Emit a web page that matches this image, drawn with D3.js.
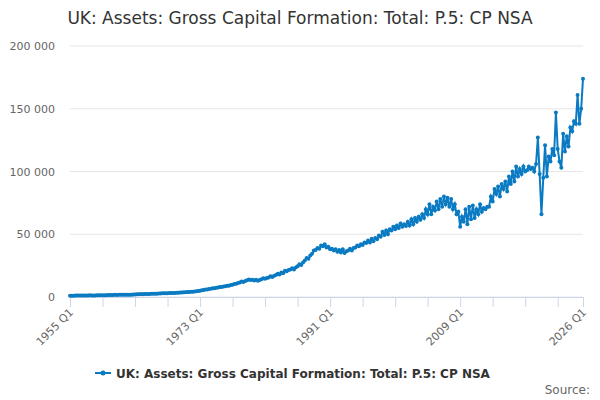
<!DOCTYPE html>
<html><head><meta charset="utf-8">
<script src="https://cdn.jsdelivr.net/npm/d3@7"></script>
<style>body{margin:0;background:#fff}</style>
</head><body><div id="chart"></div>
<script>
const title = 'UK: Assets: Gross Capital Formation: Total: P.5: CP NSA';
const startYear = 1955;
// quarterly values, £ million, 1955 Q1 .. 2026 Q1
const values = [
1000,1050,1020,1100, 1100,1150,1120,1200, 1200,1250,1220,1300, 1250,1280,1260,1330,
1300,1380,1360,1450, 1450,1520,1500,1600, 1620,1700,1680,1780, 1700,1750,1720,1800,
1750,1850,1880,1980, 2050,2150,2180,2300, 2250,2350,2380,2480, 2400,2500,2520,2620,
2600,2750,2780,2900, 2900,3000,3050,3150, 3100,3200,3250,3400, 3400,3550,3600,3800,
3800,3950,4050,4250, 4200,4350,4500,4800, 5000,5300,5500,5900, 6000,6300,6500,6900,
7000,7300,7600,8000, 8000,8400,8600,9000, 9000,9500,9800,10300, 10500,11200,11600,12300,
12000,12800,13300,14000, 13500,13800,13200,13800, 13000,13500,14200,15000, 14500,15200,15600,16500,
16000,17000,17500,18500, 18000,19500,19000,21000, 20500,21500,22000,23000, 22000,23500,24500,26000,
25500,27500,29000,31000, 30500,33000,34500,37000, 37500,39000,38500,41000, 40500,42000,39500,40000,
38000,38500,37000,38000, 36000,37500,35500,38000, 35000,36500,37000,38500, 37000,39000,39500,41000,
40500,42000,41500,43500, 43000,45000,43500,46500, 44500,47000,46000,49000, 48000,52000,49500,53000,
50000,54000,53000,56000, 54000,57000,55000,58500, 56000,58000,56500,60000, 57000,62000,58000,63000,
60000,64000,61500,66000, 63000,70000,66000,74000, 66000,72000,69000,76000, 70000,78000,72000,80000,
74000,79000,72000,78000, 70000,74000,66000,68000, 56000,64000,60000,70000, 58000,72000,62000,73000,
63000,70000,66000,74000, 68000,71000,70000,72000, 72000,80000,76000,86000, 82000,88000,80000,90000,
86000,92000,84000,96000, 90000,100000,92000,104000, 96000,102000,98000,104000, 100000,101000,104000,102000,
103000,100000,106000,127000, 98000,66000,95000,121000, 96000,112000,108000,118000, 113000,147000,118000,108000,
103000,130000,116000,128000, 120000,135000,132000,140000, 138000,161000,138000,150000,
174000
];
const quarters = values.map((v, i) => `${startYear + Math.floor(i / 4)} Q${i % 4 + 1}`);
const yTicks = [0, 50000, 100000, 150000, 200000];
const tickStep = 18, labelStep = 72;

const width = 600, height = 400;
const margin = { top: 46, right: 17, bottom: 103, left: 70 };
const color = '#0a7bc2';

const svg = d3.select('#chart').append('svg')
    .attr('width', width).attr('height', height)
    .style('font-family', '"DejaVu Sans", sans-serif');

const x = d3.scaleLinear().domain([0, values.length - 1]).range([margin.left, width - margin.right]);
const y = d3.scaleLinear().domain([0, 200000]).range([height - margin.bottom, margin.top]);

svg.append('text').attr('x', width / 2).attr('y', 24).attr('text-anchor', 'middle')
    .attr('font-size', 17).attr('fill', '#333').text(title);

// grid
svg.append('g').selectAll('line').data(yTicks).join('line')
    .attr('x1', margin.left).attr('x2', width - margin.right)
    .attr('y1', d => y(d)).attr('y2', d => y(d))
    .attr('stroke', '#e6e6e6');

const fmt = d => d3.format(',')(d).replace(/,/g, ' ');
svg.append('g').selectAll('text').data(yTicks).join('text')
    .attr('x', margin.left - 15).attr('y', d => y(d) + 4).attr('text-anchor', 'end')
    .attr('font-size', 11).attr('fill', '#666').text(fmt);

// x axis
const tickIdx = d3.range(0, values.length, tickStep).concat([values.length - 1]);
const labelIdx = d3.range(0, values.length - 1, labelStep).concat([values.length - 1]);
const xAxis = d3.axisBottom(x).tickValues(tickIdx).tickSize(10).tickFormat('');
const gx = svg.append('g').attr('transform', `translate(0,${height - margin.bottom})`).call(xAxis);
gx.select('.domain').attr('stroke', '#ccd6eb');
gx.selectAll('.tick line').attr('stroke', '#ccd6eb');
svg.append('g').selectAll('text').data(labelIdx).join('text')
    .attr('transform', d => `translate(${x(d) + 4},${height - margin.bottom + 16}) rotate(-45)`)
    .attr('text-anchor', 'end').attr('font-size', 11).attr('fill', '#666')
    .text(d => quarters[d]);

// series
const line = d3.line().x((d, i) => x(i)).y(d => y(d));
svg.append('path').attr('d', line(values)).attr('fill', 'none')
    .attr('stroke', color).attr('stroke-width', 2);
svg.append('g').selectAll('circle').data(values).join('circle')
    .attr('cx', (d, i) => x(i)).attr('cy', d => y(d)).attr('r', 2).attr('fill', color);

// legend
const lg = svg.append('g').attr('transform', 'translate(95,373)');
lg.append('line').attr('x1', 0).attr('x2', 16).attr('stroke', color).attr('stroke-width', 2);
lg.append('circle').attr('cx', 8).attr('r', 2.5).attr('fill', color);
lg.append('text').attr('x', 21).attr('y', 4.5).attr('font-size', 12).attr('font-weight', 'bold')
    .attr('fill', '#333').text(title);

svg.append('text').attr('x', width - 10).attr('y', 394).attr('text-anchor', 'end')
    .attr('font-size', 12).attr('fill', '#666').text('Source:');
</script></body></html>
